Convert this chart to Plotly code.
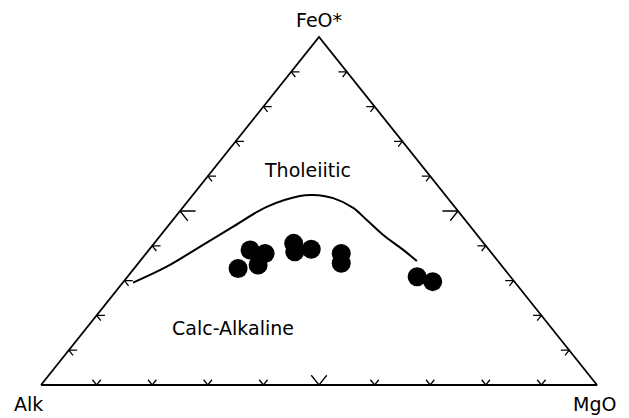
import plotly.graph_objects as go

# Sample compositions (A = Na2O+K2O, F = FeO*, M = MgO), in %
alk = [47.8, 43.0, 40.8, 43.7, 34.2, 31.9, 35.2, 27.1, 28.5, 16.8, 14.7]
feo = [33.5, 38.8, 37.8, 34.5, 40.7, 39.0, 38.3, 37.8, 35.0, 31.1, 29.7]
mgo = [18.7, 18.2, 21.4, 21.8, 25.1, 29.1, 26.5, 35.1, 36.5, 52.1, 55.6]

# Tholeiitic / calc-alkaline boundary (Irvine & Baragar), in %
bnd_alk = [68.7, 60.4, 51.6, 42.7, 33.8, 26.3, 23.8, 20.6, 18.4, 17.7, 16.9, 15.4, 14.6]
bnd_feo = [29.4, 34.0, 39.7, 45.5, 51.2, 54.3, 54.6, 53.7, 50.9, 47.4, 43.1, 38.8, 35.6]
bnd_mgo = [1.85, 5.6, 8.7, 11.8, 15.0, 19.4, 21.6, 25.7, 30.7, 34.9, 40.0, 45.2, 49.8]

tick_vals = [0.1, 0.2, 0.3, 0.4, 0.5, 0.6, 0.7, 0.8, 0.9]
apex_labels = ["Alk", "MgO", "FeO*"]
field_labels = ["Tholeiitic", "Calc-Alkaline"]


def to_xy(a, f, m):
    s = a + f + m
    f, m = f / s, m / s
    return m + f / 2.0, f


pts = [to_xy(a, f, m) for a, f, m in zip(alk, feo, mgo)]
crv = [to_xy(a, f, m) for a, f, m in zip(bnd_alk, bnd_feo, bnd_mgo)]

fig = go.Figure()

# triangle frame
fig.add_trace(go.Scatter(x=[0, 1, 0.5, 0], y=[0, 0, 1, 0], mode="lines",
                         line=dict(color="black", width=1.8), hoverinfo="skip"))

# ticks
tx, ty = [], []
for v in tick_vals:
    L = 0.028 if abs(v - 0.5) < 1e-9 else 0.015
    # bottom edge
    bx, by = v, 0.0
    tx += [bx - 0.5 * L, bx, bx + 0.5 * L, None]
    ty += [by + L, by, by + L, None]
    # left edge
    lx, ly = v / 2.0, v
    tx += [lx + L, lx, lx + 0.5 * L, None]
    ty += [ly, ly, ly - L, None]
    # right edge
    rx, ry = 1 - v / 2.0, v
    tx += [rx - L, rx, rx - 0.5 * L, None]
    ty += [ry, ry, ry - L, None]
fig.add_trace(go.Scatter(x=tx, y=ty, mode="lines",
                         line=dict(color="black", width=1.3), hoverinfo="skip"))

# boundary curve
fig.add_trace(go.Scatter(x=[p[0] for p in crv], y=[p[1] for p in crv], mode="lines",
                         line=dict(color="black", width=2, shape="spline"),
                         hoverinfo="skip"))

# samples
fig.add_trace(go.Scatter(x=[p[0] for p in pts], y=[p[1] for p in pts], mode="markers",
                         marker=dict(color="black", size=19, line=dict(width=0)),
                         cliponaxis=False))

font = dict(family="DejaVu Sans", size=19, color="black")
ann = [
    dict(x=-0.023, y=-0.092, text=apex_labels[0], xa="center", ya="bottom"),
    dict(x=1.038, y=-0.092, text=apex_labels[1], xa="right", ya="bottom"),
    dict(x=0.5, y=1.05, text=apex_labels[2], xa="center", ya="middle"),
    dict(x=0.4795, y=0.618, text=field_labels[0], xa="center", ya="middle"),
    dict(x=0.345, y=0.164, text=field_labels[1], xa="center", ya="middle"),
]
for a in ann:
    fig.add_annotation(x=a["x"], y=a["y"], text=a["text"], showarrow=False,
                       font=font, xanchor=a["xa"], yanchor=a["ya"])

# page body adds an 8px offset; figure is sized to fit the 629x418 window
OFF = 8
W, H = 629 - OFF, 418 - OFF
x0 = -(41 - OFF) / 556
y1 = 1 + (37 - OFF) / 348
fig.update_layout(
    width=W, height=H, margin=dict(l=0, r=0, t=0, b=0),
    paper_bgcolor="white", plot_bgcolor="white", showlegend=False,
    xaxis=dict(range=[x0, x0 + W / 556], visible=False, fixedrange=True),
    yaxis=dict(range=[y1 - H / 348, y1], visible=False, fixedrange=True),
)
fig.write_html("out.html")
